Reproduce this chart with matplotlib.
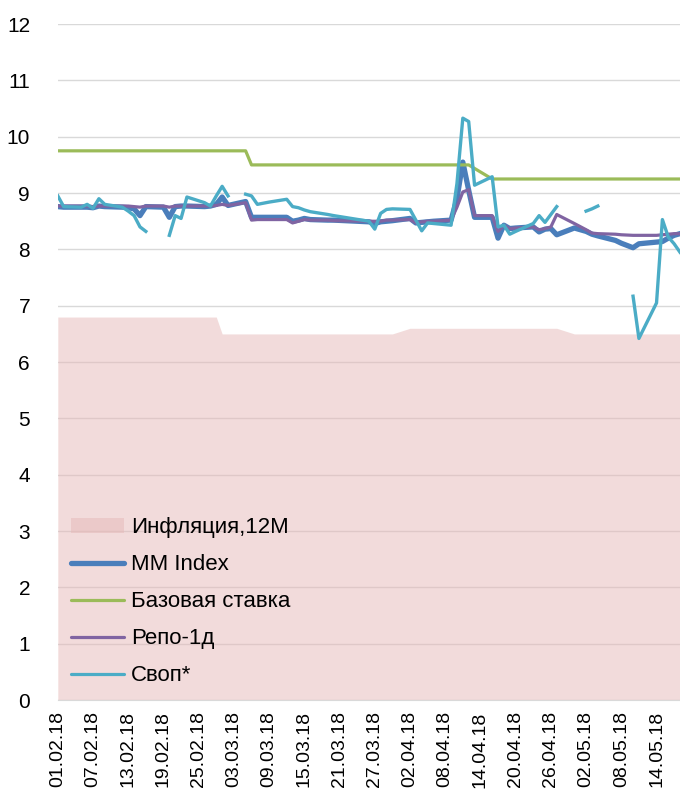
from datetime import datetime
import numpy as np
import matplotlib
matplotlib.use("Agg")
import matplotlib.pyplot as plt
import matplotlib.dates as mdates
from matplotlib.patches import Patch
from matplotlib.lines import Line2D

plt.rcParams['font.family'] = ['Liberation Sans', 'DejaVu Sans']

# Data
dates = ['01.02.18', '02.02.18', '05.02.18', '06.02.18', '07.02.18', '08.02.18', '09.02.18',
         '12.02.18', '13.02.18', '14.02.18', '15.02.18', '16.02.18', '19.02.18', '20.02.18',
         '21.02.18', '22.02.18', '23.02.18', '26.02.18', '27.02.18', '28.02.18',
         '01.03.18', '02.03.18', '05.03.18', '06.03.18', '07.03.18', '09.03.18', '12.03.18',
         '13.03.18', '14.03.18', '15.03.18', '16.03.18', '19.03.18', '20.03.18', '26.03.18',
         '27.03.18', '28.03.18', '29.03.18', '30.03.18',
         '02.04.18', '03.04.18', '04.04.18', '05.04.18', '06.04.18', '09.04.18', '10.04.18',
         '11.04.18', '12.04.18', '13.04.18', '16.04.18', '17.04.18', '18.04.18', '19.04.18',
         '20.04.18', '23.04.18', '24.04.18', '25.04.18', '26.04.18', '27.04.18', '30.04.18',
         '02.05.18', '03.05.18', '04.05.18', '07.05.18', '08.05.18', '10.05.18', '11.05.18',
         '14.05.18', '15.05.18', '16.05.18', '17.05.18', '18.05.18']

mm_index = [8.76, 8.75, 8.75, 8.75, 8.74, 8.77, 8.76, 8.75, 8.74, 8.72, 8.60, 8.76, 8.75, 8.57,
            8.76, 8.77, 8.77, 8.76, 8.77, 8.80,
            8.93, 8.78, 8.85, 8.57, 8.57, 8.57, 8.57, 8.50, 8.52, 8.55, 8.53, 8.52, 8.52, 8.49,
            8.46, 8.49, 8.50, 8.51,
            8.55, 8.47, 8.48, 8.49, 8.50, 8.52, 8.90, 9.55, 9.05, 8.57, 8.57, 8.20, 8.43, 8.37,
            8.38, 8.40, 8.31, 8.36, 8.37, 8.26, 8.38,
            8.32, 8.27, 8.24, 8.16, 8.11, 8.03, 8.10, 8.13, 8.14, 8.20, 8.25, 8.28]

repo = [8.77, 8.77, 8.77, 8.77, 8.76, 8.77, 8.77, 8.77, 8.77, 8.76, 8.75, 8.77, 8.77, 8.75,
        8.77, 8.77, 8.77, 8.77, 8.77, 8.78,
        8.80, 8.78, 8.83, 8.52, 8.53, 8.53, 8.53, 8.47, 8.50, 8.53, 8.52, 8.52, 8.51, 8.50,
        8.50, 8.50, 8.52, 8.52,
        8.53, 8.47, 8.49, 8.50, 8.50, 8.52, 8.75, 9.02, 9.06, 8.60, 8.60, 8.32, 8.43, 8.37,
        8.38, 8.40, 8.35, 8.37, 8.40, 8.62, 8.46,
        8.35, 8.29, 8.28, 8.27, 8.26, 8.25, 8.25, 8.25, 8.26, 8.27, 8.28, 8.28]

# swap has missing days (None -> gap in the line)
swap_dates = ['01.02.18', '02.02.18', '05.02.18', '06.02.18', '07.02.18', '08.02.18', '09.02.18',
              '12.02.18', '13.02.18', '14.02.18', '15.02.18', '16.02.18', '19.02.18', '20.02.18',
              '21.02.18', '22.02.18', '23.02.18', '26.02.18', '27.02.18', '28.02.18',
              '01.03.18', '02.03.18', '03.03.18', '05.03.18', '06.03.18', '07.03.18', '09.03.18',
              '12.03.18', '13.03.18', '14.03.18', '15.03.18', '16.03.18', '19.03.18', '20.03.18',
              '26.03.18', '27.03.18', '28.03.18', '29.03.18', '30.03.18',
              '02.04.18', '03.04.18', '04.04.18', '05.04.18', '06.04.18', '09.04.18', '10.04.18',
              '11.04.18', '12.04.18', '13.04.18', '16.04.18', '17.04.18', '18.04.18', '19.04.18',
              '20.04.18', '23.04.18', '24.04.18', '25.04.18', '26.04.18', '27.04.18', '30.04.18',
              '02.05.18', '03.05.18', '04.05.18', '07.05.18', '10.05.18', '11.05.18',
              '14.05.18', '15.05.18', '16.05.18', '17.05.18', '18.05.18']
swap = [8.95, 8.76, 8.75, 8.80, 8.73, 8.90, 8.80, 8.75, 8.68, 8.60, 8.40, 8.32, None, 8.25,
        8.60, 8.55, 8.93, 8.83, 8.77, 8.95,
        9.12, 8.95, None, 8.98, 8.95, 8.80, 8.84, 8.89, 8.76, 8.74, 8.70, 8.67, 8.62, 8.60,
        8.50, 8.36, 8.64, 8.71, 8.72,
        8.71, 8.52, 8.33, 8.47, 8.46, 8.43, 9.17, 10.33, 10.27, 9.14, 9.29, 8.40, 8.43, 8.27,
        8.32, 8.46, 8.60, 8.48, 8.62, 8.76, None,
        8.68, 8.72, 8.77, None, 7.17, 6.42, 7.05, 8.53, 8.22, 8.10, 7.95]

base_dates = ['01.02.18', '05.03.18', '06.03.18', '12.04.18', '16.04.18', '18.05.18']
base_rate = [9.75, 9.75, 9.50, 9.50, 9.25, 9.25]

infl_dates = ['01.02.18', '28.02.18', '01.03.18', '30.03.18', '02.04.18', '27.04.18',
              '30.04.18', '18.05.18']
inflation = [6.8, 6.8, 6.5, 6.5, 6.6, 6.6, 6.5, 6.5]

tick_dates = ['01.02.18', '07.02.18', '13.02.18', '19.02.18', '25.02.18', '03.03.18',
              '09.03.18', '15.03.18', '21.03.18', '27.03.18', '02.04.18', '08.04.18',
              '14.04.18', '20.04.18', '26.04.18', '02.05.18', '08.05.18', '14.05.18']


def to_dt(lst):
    return [datetime.strptime(s, '%d.%m.%y') for s in lst]


fig = plt.figure(figsize=(6.8, 8.02), dpi=100)
ax = fig.add_axes([0.085, 0.127, 0.915, 0.843])

c_infl = '#E6B9B8'
c_mm = '#4A7EBB'
c_base = '#9BBB59'
c_repo = '#8064A2'
c_swap = '#4BACC6'

ax.fill_between(to_dt(infl_dates), inflation, 0, color=c_infl, alpha=0.5, lw=0, zorder=1)
ax.plot(to_dt(dates), mm_index, color=c_mm, lw=3.8, zorder=3, solid_joinstyle='round')
ax.plot(to_dt(base_dates), base_rate, color=c_base, lw=2.3, zorder=4)
ax.plot(to_dt(dates), repo, color=c_repo, lw=2.3, zorder=5)
swap_vals = np.array([np.nan if v is None else v for v in swap])
ax.plot(to_dt(swap_dates), swap_vals, color=c_swap, lw=2.4, zorder=6)

ax.set_ylim(0, 12)
ax.set_yticks(range(0, 13))
ax.set_xlim(datetime(2018, 2, 1), datetime(2018, 5, 18))
ax.set_xticks(to_dt(tick_dates))
ax.xaxis.set_major_formatter(mdates.DateFormatter('%d.%m.%y'))
ax.tick_params(axis='x', labelrotation=90, length=0, pad=8, labelsize=14)
ax.tick_params(axis='y', length=0, pad=20, labelsize=15)

ax.grid(axis='y', color='#D9D9D9', lw=1, zorder=0)
ax.set_axisbelow(True)
for s in ['top', 'right', 'left']:
    ax.spines[s].set_visible(False)
ax.spines['bottom'].set_color('#D9D9D9')

handles = [Patch(facecolor=c_infl, alpha=0.5, edgecolor='none'),
           Line2D([], [], color=c_mm, lw=3.8, solid_capstyle='round'),
           Line2D([], [], color=c_base, lw=2.3, solid_capstyle='round'),
           Line2D([], [], color=c_repo, lw=2.3, solid_capstyle='round'),
           Line2D([], [], color=c_swap, lw=2.3, solid_capstyle='round')]
labels = ['Инфляция,12M', 'MM Index', 'Базовая ставка', 'Репо-1д', 'Своп*']
ax.legend(handles, labels, loc='upper left', bbox_to_anchor=(0.0, 0.29), frameon=False,
          fontsize=16, handlelength=2.4, handletextpad=0.3, labelspacing=0.72,
          borderaxespad=0.2)

fig.savefig('out.png', dpi=100)
